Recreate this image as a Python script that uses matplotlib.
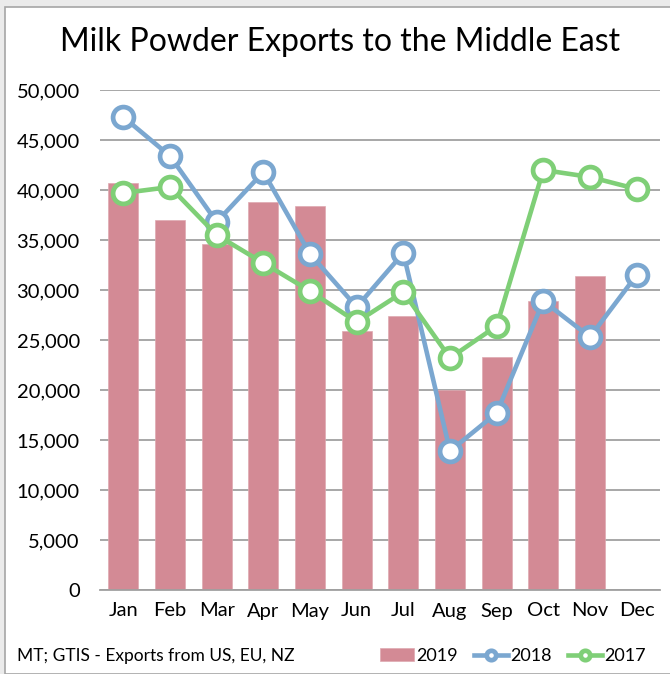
import numpy as np
from matplotlib import pyplot as plt
from matplotlib.patches import Rectangle
from matplotlib.ticker import FuncFormatter

months = ['Jan', 'Feb', 'Mar', 'Apr', 'May', 'Jun', 'Jul', 'Aug', 'Sep', 'Oct', 'Nov', 'Dec']
exports_2019 = [40700, 37000, 34600, 38800, 38400, 25900, 27400, 20000, 23300, 28900, 31400, np.nan]
exports_2018 = [47300, 43400, 36800, 41800, 33600, 28300, 33700, 13900, 17700, 28900, 25300, 31500]
exports_2017 = [39700, 40300, 35500, 32700, 29900, 26800, 29800, 23200, 26400, 42000, 41300, 40100]

bar_color = '#d38a95'
blue = '#7ba7d0'
green = '#7fcf77'

plt.rcParams['font.family'] = ['Lato', 'DejaVu Sans']

fig = plt.figure(figsize=(6.7, 6.74), dpi=100)
fig.patch.set_facecolor('#ebebeb')
# white chart panel with grey border
panel = Rectangle((5 / 670, 0), 1.0, 1 - 7 / 674, transform=fig.transFigure,
                  facecolor='white', edgecolor='#a6a6a6', linewidth=1.2, zorder=-5)
fig.patches.append(panel)

ax = fig.add_axes([100 / 670, 1 - 590 / 674, 560 / 670, 500 / 674])
ax.set_facecolor('none')
x = np.arange(len(months))

bars = ax.bar(x, exports_2019, width=0.64, color=bar_color, edgecolor='#dfa9b1',
              linewidth=0.5, label='2019', zorder=2)
l18, = ax.plot(x, exports_2018, color=blue, lw=3.3, marker='o', ms=15, mfc='white',
               mec=blue, mew=3.4, label='2018', zorder=3)
l17, = ax.plot(x, exports_2017, color=green, lw=3.3, marker='o', ms=15, mfc='white',
               mec=green, mew=3.4, label='2017', zorder=4)

ax.set_xlim(-0.5, 11.5)
ax.set_ylim(0, 50000)
ax.set_yticks(np.arange(0, 50001, 5000))
ax.yaxis.set_major_formatter(FuncFormatter(lambda v, p: f'{int(v):,}'))
ax.set_xticks(x)
ax.set_xticklabels(months)
ax.tick_params(length=0, labelsize=14.5, colors='black')
ax.tick_params(axis='y', pad=14.5)
ax.tick_params(axis='x', pad=9)
ax.grid(axis='y', color='#a0a0a0', lw=1.3, zorder=1)
ax.set_axisbelow(True)
for s in ['left', 'right', 'top']:
    ax.spines[s].set_visible(False)
ax.spines['bottom'].set_color('#a0a0a0')
ax.spines['bottom'].set_linewidth(1.3)

fig.text(340 / 670, 1 - 42 / 674, 'Milk Powder Exports to the Middle East',
         ha='center', va='center', fontsize=23)
fig.text(17 / 670, 1 - 656 / 674, 'MT; GTIS - Exports from US, EU, NZ',
         ha='left', va='center', fontsize=12.5)

leg = fig.legend([bars, l18, l17], ['2019', '2018', '2017'],
                 loc='center right', bbox_to_anchor=(662 / 670, 1 - 656 / 674),
                 ncol=3, frameon=False, fontsize=13, handlelength=1.9,
                 handletextpad=0.1, columnspacing=0.9, markerscale=0.45)

fig.savefig('out.png', dpi=100, facecolor=fig.get_facecolor())
